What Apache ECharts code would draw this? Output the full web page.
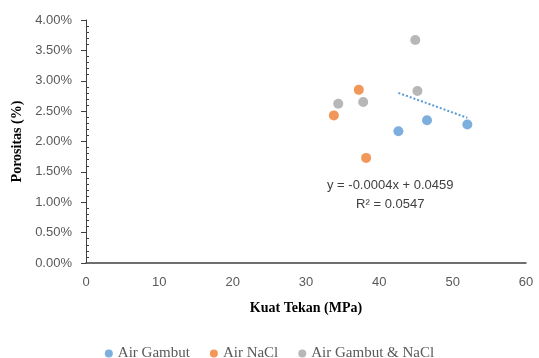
<!DOCTYPE html>
<html><head><meta charset="utf-8">
<script src="https://cdn.jsdelivr.net/npm/echarts@6/dist/echarts.min.js"></script>
<style>html,body{margin:0;padding:0;background:#fff}#c{width:539px;height:358px}</style>
</head><body><div id="c"></div>
<script>
var seriesNames = ['Air Gambut', 'Air NaCl', 'Air Gambut & NaCl'];
var airGambut = [[42.6, 0.0217], [46.5, 0.0235], [52.0, 0.0228]];
var airNaCl = [[37.2, 0.0285], [33.8, 0.0243], [38.2, 0.0173]];
var airGambutNaCl = [[44.9, 0.0367], [45.2, 0.0283], [34.4, 0.0262], [37.8, 0.0265]];
var trendLine = [[42.6, 0.0280], [52.0, 0.0239]];
var equationText = ['y = -0.0004x + 0.0459', 'R² = 0.0547'];
var xTitle = 'Kuat Tekan (MPa)';
var yTitle = 'Porositas (%)';

var colors = ['#5B9BD5', '#ED7D31', '#A5A5A5'];
var chart = echarts.init(document.getElementById('c'));
var labelFont = {fontFamily: 'Liberation Sans', fontSize: 13, color: '#595959'};
chart.setOption({
  animation: false,
  color: colors,
  grid: {left: 86, right: 13, top: 20, bottom: 95, containLabel: false},
  legend: {
    data: seriesNames, top: 341, left: 'center', icon: 'circle',
    itemWidth: 8, itemHeight: 8, itemGap: 20,
    textStyle: {fontFamily: 'Liberation Serif', fontSize: 15, color: '#595959'}
  },
  xAxis: {
    type: 'value', min: 0, max: 60, interval: 10,
    name: xTitle, nameLocation: 'middle', nameGap: 38,
    nameTextStyle: {fontFamily: 'Liberation Serif', fontWeight: 'bold', fontSize: 14, color: '#000'},
    axisLine: {show: true, lineStyle: {color: '#404040', width: 1.5}},
    axisTick: {show: false},
    splitLine: {show: false},
    axisLabel: Object.assign({margin: 13}, labelFont)
  },
  yAxis: [{
    type: 'value', min: 0, max: 0.04, interval: 0.005,
    name: yTitle, nameLocation: 'middle', nameGap: 57,
    nameTextStyle: {fontFamily: 'Liberation Serif', fontWeight: 'bold', fontSize: 14, color: '#000'},
    axisLine: {show: true, lineStyle: {color: '#404040', width: 1}},
    axisTick: {show: true, length: 5, lineStyle: {color: '#404040'}},
    splitLine: {show: false},
    axisLabel: Object.assign({margin: 14, formatter: function (v) { return (v * 100).toFixed(2) + '%'; }}, labelFont)
  }, {
    type: 'value', min: 0, max: 0.04, interval: 0.005, position: 'left',
    axisLine: {show: false}, axisLabel: {show: false}, splitLine: {show: false},
    axisTick: {show: false, inside: true},
    minorTick: {show: true, splitNumber: 5, length: 3, lineStyle: {color: '#404040'}}
  }],
  series: [
    {name: seriesNames[0], type: 'scatter', data: airGambut, symbolSize: 10},
    {name: seriesNames[1], type: 'scatter', data: airNaCl, symbolSize: 10},
    {name: seriesNames[2], type: 'scatter', data: airGambutNaCl, symbolSize: 10},
    {name: 'trend', type: 'line', data: trendLine, symbol: 'none',
     lineStyle: {color: '#5B9BD5', width: 2, type: [2, 2]}}
  ],
  graphic: [{
    type: 'text', left: 327, top: 176,
    style: {text: equationText.join('\n'), fill: '#404040', font: '13px "Liberation Sans"', align: 'center', lineHeight: 19, x: 66, textAlign: 'center'}
  }]
});
</script></body></html>
